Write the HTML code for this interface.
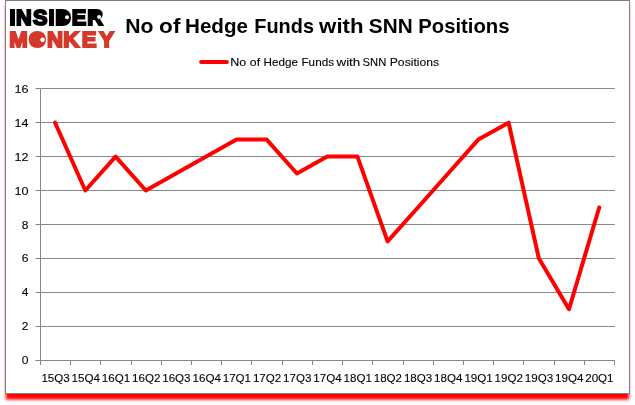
<!DOCTYPE html>
<html><head><meta charset="utf-8"><title>No of Hedge Funds with SNN Positions</title>
<style>
html,body{margin:0;padding:0;background:#fff;}
body{width:635px;height:405px;overflow:hidden;font-family:"Liberation Sans",sans-serif;}
svg{display:block;}
text{font-family:"Liberation Sans",sans-serif;}
</style></head><body>
<svg width="635" height="405" viewBox="0 0 635 405">
<defs>
<filter id="sh" x="-5%" y="-5%" width="110%" height="115%"><feGaussianBlur stdDeviation="1.8 1.5"/></filter>
</defs>
<rect x="0" y="0" width="635" height="405" fill="#fff"/>
<rect x="5.8" y="5" width="623.2" height="394.6" fill="#ff0000" filter="url(#sh)"/>
<rect x="5.5" y="0.5" width="624" height="393" fill="#fff" stroke="#7f7f7f" stroke-width="1"/>

<line x1="40.5" y1="326.5" x2="614.9" y2="326.5" stroke="#868686" stroke-width="1"/>
<line x1="40.5" y1="292.5" x2="614.9" y2="292.5" stroke="#868686" stroke-width="1"/>
<line x1="40.5" y1="258.5" x2="614.9" y2="258.5" stroke="#868686" stroke-width="1"/>
<line x1="40.5" y1="224.5" x2="614.9" y2="224.5" stroke="#868686" stroke-width="1"/>
<line x1="40.5" y1="190.5" x2="614.9" y2="190.5" stroke="#868686" stroke-width="1"/>
<line x1="40.5" y1="156.5" x2="614.9" y2="156.5" stroke="#868686" stroke-width="1"/>
<line x1="40.5" y1="122.5" x2="614.9" y2="122.5" stroke="#868686" stroke-width="1"/>
<line x1="40.5" y1="88.5" x2="614.9" y2="88.5" stroke="#868686" stroke-width="1"/>
<line x1="40.5" y1="88.5" x2="40.5" y2="360.5" stroke="#868686" stroke-width="1"/>
<line x1="35.5" y1="360.5" x2="614.9" y2="360.5" stroke="#868686" stroke-width="1"/>
<line x1="35.5" y1="360.5" x2="40.5" y2="360.5" stroke="#868686" stroke-width="1"/>
<text x="21.7" y="364.1" font-size="11.5" textLength="6.7" lengthAdjust="spacingAndGlyphs" fill="#000" stroke="#000" stroke-width="0.1">0</text>
<line x1="35.5" y1="326.5" x2="40.5" y2="326.5" stroke="#868686" stroke-width="1"/>
<text x="21.7" y="330.2" font-size="11.5" textLength="6.7" lengthAdjust="spacingAndGlyphs" fill="#000" stroke="#000" stroke-width="0.1">2</text>
<line x1="35.5" y1="292.5" x2="40.5" y2="292.5" stroke="#868686" stroke-width="1"/>
<text x="21.7" y="296.3" font-size="11.5" textLength="6.7" lengthAdjust="spacingAndGlyphs" fill="#000" stroke="#000" stroke-width="0.1">4</text>
<line x1="35.5" y1="258.5" x2="40.5" y2="258.5" stroke="#868686" stroke-width="1"/>
<text x="21.7" y="262.4" font-size="11.5" textLength="6.7" lengthAdjust="spacingAndGlyphs" fill="#000" stroke="#000" stroke-width="0.1">6</text>
<line x1="35.5" y1="224.5" x2="40.5" y2="224.5" stroke="#868686" stroke-width="1"/>
<text x="21.7" y="228.5" font-size="11.5" textLength="6.7" lengthAdjust="spacingAndGlyphs" fill="#000" stroke="#000" stroke-width="0.1">8</text>
<line x1="35.5" y1="190.5" x2="40.5" y2="190.5" stroke="#868686" stroke-width="1"/>
<text x="14.4" y="194.7" font-size="11.5" textLength="14.0" lengthAdjust="spacingAndGlyphs" fill="#000" stroke="#000" stroke-width="0.1">10</text>
<line x1="35.5" y1="156.5" x2="40.5" y2="156.5" stroke="#868686" stroke-width="1"/>
<text x="14.4" y="160.8" font-size="11.5" textLength="14.0" lengthAdjust="spacingAndGlyphs" fill="#000" stroke="#000" stroke-width="0.1">12</text>
<line x1="35.5" y1="122.5" x2="40.5" y2="122.5" stroke="#868686" stroke-width="1"/>
<text x="14.4" y="126.9" font-size="11.5" textLength="14.0" lengthAdjust="spacingAndGlyphs" fill="#000" stroke="#000" stroke-width="0.1">14</text>
<line x1="35.5" y1="88.5" x2="40.5" y2="88.5" stroke="#868686" stroke-width="1"/>
<text x="14.4" y="93.0" font-size="11.5" textLength="14.0" lengthAdjust="spacingAndGlyphs" fill="#000" stroke="#000" stroke-width="0.1">16</text>
<line x1="40.5" y1="360.5" x2="40.5" y2="365.0" stroke="#868686" stroke-width="1"/>
<line x1="70.5" y1="360.5" x2="70.5" y2="365.0" stroke="#868686" stroke-width="1"/>
<line x1="100.5" y1="360.5" x2="100.5" y2="365.0" stroke="#868686" stroke-width="1"/>
<line x1="131.5" y1="360.5" x2="131.5" y2="365.0" stroke="#868686" stroke-width="1"/>
<line x1="161.5" y1="360.5" x2="161.5" y2="365.0" stroke="#868686" stroke-width="1"/>
<line x1="191.5" y1="360.5" x2="191.5" y2="365.0" stroke="#868686" stroke-width="1"/>
<line x1="221.5" y1="360.5" x2="221.5" y2="365.0" stroke="#868686" stroke-width="1"/>
<line x1="251.5" y1="360.5" x2="251.5" y2="365.0" stroke="#868686" stroke-width="1"/>
<line x1="282.5" y1="360.5" x2="282.5" y2="365.0" stroke="#868686" stroke-width="1"/>
<line x1="312.5" y1="360.5" x2="312.5" y2="365.0" stroke="#868686" stroke-width="1"/>
<line x1="342.5" y1="360.5" x2="342.5" y2="365.0" stroke="#868686" stroke-width="1"/>
<line x1="372.5" y1="360.5" x2="372.5" y2="365.0" stroke="#868686" stroke-width="1"/>
<line x1="403.5" y1="360.5" x2="403.5" y2="365.0" stroke="#868686" stroke-width="1"/>
<line x1="433.5" y1="360.5" x2="433.5" y2="365.0" stroke="#868686" stroke-width="1"/>
<line x1="463.5" y1="360.5" x2="463.5" y2="365.0" stroke="#868686" stroke-width="1"/>
<line x1="493.5" y1="360.5" x2="493.5" y2="365.0" stroke="#868686" stroke-width="1"/>
<line x1="523.5" y1="360.5" x2="523.5" y2="365.0" stroke="#868686" stroke-width="1"/>
<line x1="554.5" y1="360.5" x2="554.5" y2="365.0" stroke="#868686" stroke-width="1"/>
<line x1="584.5" y1="360.5" x2="584.5" y2="365.0" stroke="#868686" stroke-width="1"/>
<line x1="614.5" y1="360.5" x2="614.5" y2="365.0" stroke="#868686" stroke-width="1"/>
<text x="55.6" y="382.3" font-size="11.5" text-anchor="middle" textLength="28.4" lengthAdjust="spacingAndGlyphs" fill="#000" stroke="#000" stroke-width="0.1">15Q3</text>
<text x="85.8" y="382.3" font-size="11.5" text-anchor="middle" textLength="28.4" lengthAdjust="spacingAndGlyphs" fill="#000" stroke="#000" stroke-width="0.1">15Q4</text>
<text x="116.0" y="382.3" font-size="11.5" text-anchor="middle" textLength="28.4" lengthAdjust="spacingAndGlyphs" fill="#000" stroke="#000" stroke-width="0.1">16Q1</text>
<text x="146.2" y="382.3" font-size="11.5" text-anchor="middle" textLength="28.4" lengthAdjust="spacingAndGlyphs" fill="#000" stroke="#000" stroke-width="0.1">16Q2</text>
<text x="176.4" y="382.3" font-size="11.5" text-anchor="middle" textLength="28.4" lengthAdjust="spacingAndGlyphs" fill="#000" stroke="#000" stroke-width="0.1">16Q3</text>
<text x="206.7" y="382.3" font-size="11.5" text-anchor="middle" textLength="28.4" lengthAdjust="spacingAndGlyphs" fill="#000" stroke="#000" stroke-width="0.1">16Q4</text>
<text x="236.9" y="382.3" font-size="11.5" text-anchor="middle" textLength="28.4" lengthAdjust="spacingAndGlyphs" fill="#000" stroke="#000" stroke-width="0.1">17Q1</text>
<text x="267.1" y="382.3" font-size="11.5" text-anchor="middle" textLength="28.4" lengthAdjust="spacingAndGlyphs" fill="#000" stroke="#000" stroke-width="0.1">17Q2</text>
<text x="297.3" y="382.3" font-size="11.5" text-anchor="middle" textLength="28.4" lengthAdjust="spacingAndGlyphs" fill="#000" stroke="#000" stroke-width="0.1">17Q3</text>
<text x="327.5" y="382.3" font-size="11.5" text-anchor="middle" textLength="28.4" lengthAdjust="spacingAndGlyphs" fill="#000" stroke="#000" stroke-width="0.1">17Q4</text>
<text x="357.7" y="382.3" font-size="11.5" text-anchor="middle" textLength="28.4" lengthAdjust="spacingAndGlyphs" fill="#000" stroke="#000" stroke-width="0.1">18Q1</text>
<text x="387.9" y="382.3" font-size="11.5" text-anchor="middle" textLength="28.4" lengthAdjust="spacingAndGlyphs" fill="#000" stroke="#000" stroke-width="0.1">18Q2</text>
<text x="418.1" y="382.3" font-size="11.5" text-anchor="middle" textLength="28.4" lengthAdjust="spacingAndGlyphs" fill="#000" stroke="#000" stroke-width="0.1">18Q3</text>
<text x="448.3" y="382.3" font-size="11.5" text-anchor="middle" textLength="28.4" lengthAdjust="spacingAndGlyphs" fill="#000" stroke="#000" stroke-width="0.1">18Q4</text>
<text x="478.6" y="382.3" font-size="11.5" text-anchor="middle" textLength="28.4" lengthAdjust="spacingAndGlyphs" fill="#000" stroke="#000" stroke-width="0.1">19Q1</text>
<text x="508.8" y="382.3" font-size="11.5" text-anchor="middle" textLength="28.4" lengthAdjust="spacingAndGlyphs" fill="#000" stroke="#000" stroke-width="0.1">19Q2</text>
<text x="539.0" y="382.3" font-size="11.5" text-anchor="middle" textLength="28.4" lengthAdjust="spacingAndGlyphs" fill="#000" stroke="#000" stroke-width="0.1">19Q3</text>
<text x="569.2" y="382.3" font-size="11.5" text-anchor="middle" textLength="28.4" lengthAdjust="spacingAndGlyphs" fill="#000" stroke="#000" stroke-width="0.1">19Q4</text>
<text x="599.4" y="382.3" font-size="11.5" text-anchor="middle" textLength="28.4" lengthAdjust="spacingAndGlyphs" fill="#000" stroke="#000" stroke-width="0.1">20Q1</text>
<polyline points="55.1,122.7 85.3,190.5 115.6,156.6 145.8,190.5 176.0,173.5 206.2,156.6 236.5,139.6 266.7,139.6 296.9,173.5 327.2,156.6 357.4,156.6 387.6,241.4 417.9,207.5 448.1,173.5 478.3,139.6 508.6,122.7 538.8,258.3 569.0,309.2 599.2,207.5" fill="none" stroke="#ff0000" stroke-width="4" stroke-linejoin="round" stroke-linecap="round"/>
<line x1="201.1" y1="62" x2="226.9" y2="62" stroke="#ff0000" stroke-width="4" stroke-linecap="round"/>
<text y="66.2" font-size="11.6" stroke="#000" stroke-width="0.1" fill="#000" xml:space="preserve"><tspan x="230.20" textLength="16.00" lengthAdjust="spacingAndGlyphs">No</tspan> <tspan x="249.86" textLength="10.26" lengthAdjust="spacingAndGlyphs">of</tspan> <tspan x="263.49" textLength="34.40" lengthAdjust="spacingAndGlyphs">Hedge</tspan> <tspan x="301.47" textLength="32.54" lengthAdjust="spacingAndGlyphs">Funds</tspan> <tspan x="336.46" textLength="23.85" lengthAdjust="spacingAndGlyphs">with</tspan> <tspan x="362.62" textLength="23.72" lengthAdjust="spacingAndGlyphs">SNN</tspan> <tspan x="389.75" textLength="49.36" lengthAdjust="spacingAndGlyphs">Positions</tspan></text>
<text y="32.8" font-size="20.2" font-weight="bold" fill="#000" xml:space="preserve"><tspan x="125.17" textLength="28.21" lengthAdjust="spacingAndGlyphs">No</tspan> <tspan x="159.08" textLength="21.33" lengthAdjust="spacingAndGlyphs">of</tspan> <tspan x="185.04" textLength="62.95" lengthAdjust="spacingAndGlyphs">Hedge</tspan> <tspan x="254.30" textLength="59.70" lengthAdjust="spacingAndGlyphs">Funds</tspan> <tspan x="319.12" textLength="44.45" lengthAdjust="spacingAndGlyphs">with</tspan> <tspan x="368.87" textLength="43.81" lengthAdjust="spacingAndGlyphs">SNN</tspan> <tspan x="418.27" textLength="91.26" lengthAdjust="spacingAndGlyphs">Positions</tspan></text>
<text transform="scale(0.97,1)" x="9.74 16.46 34.10 50.11 56.84 74.02 90.07" y="25.2" font-size="22.4" font-weight="bold" fill="#000" stroke="#000" stroke-width="2.0" stroke-linejoin="miter">INSIDER</text>
<text transform="scale(0.98,1)" x="9.54 29.36 47.91 64.66 83.43 101.17" y="47.5" font-size="22.6" font-weight="bold" fill="#d5392b" stroke="#d5392b" stroke-width="2.0" stroke-linejoin="miter">MONKEY</text>
<ellipse cx="37.4" cy="39.6" rx="5.5" ry="6" fill="#d5392b"/><ellipse cx="63.2" cy="17.5" rx="4.3" ry="5.5" fill="#000"/><ellipse cx="95.9" cy="14.3" rx="4.7" ry="3.2" fill="#000"/>
<circle cx="67.0" cy="17.3" r="2" fill="#fff"/><circle cx="99.1" cy="16.9" r="2" fill="#fff"/><circle cx="42.6" cy="39.7" r="2.3" fill="#fff"/>
</svg></body></html>
